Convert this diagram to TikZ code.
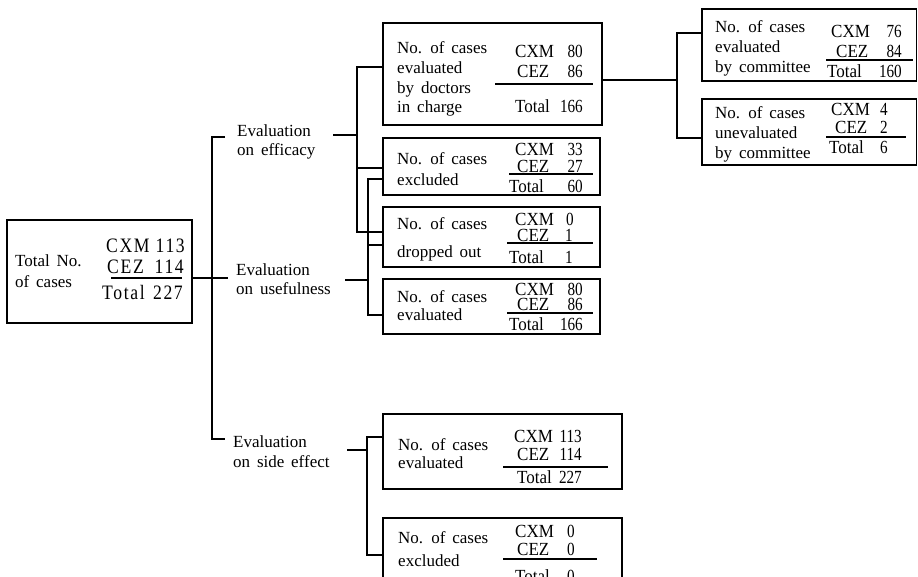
\documentclass[tikz,border=0pt]{standalone}
\usepackage{fontspec}
\setmainfont{Liberation Serif}
\newfontfamily\labfont{Liberation Serif}[WordSpace=1.6]
\newfontfamily\numfont{Liberation Serif}[FakeStretch=0.92]
\newfontfamily\digfont{Liberation Serif}[FakeStretch=0.82]
\newfontfamily\bignumfont{Liberation Serif}[FakeStretch=0.86,LetterSpace=8]
\tikzset{
  box/.style={draw, line width=1.2pt, inner sep=0pt, outer sep=0pt},
  conn/.style={line width=1.2pt},
  lab/.style={inner sep=0pt, anchor=base west, font=\labfont\fontsize{17}{20}\selectfont},
  numl/.style={inner sep=0pt, anchor=base west, font=\numfont\fontsize{18.5}{20}\selectfont},
  numr/.style={inner sep=0pt, anchor=base east, font=\digfont\fontsize{18.5}{20}\selectfont},
  bigl/.style={inner sep=0pt, anchor=base west, font=\bignumfont\fontsize{20.5}{22}\selectfont},
  bigr/.style={bigl, anchor=base east},
  sumrule/.style={line width=1.1pt},
}
\newcommand\boxat[5]{\node[box, minimum width={#4pt-#2pt}, minimum height={#5pt-#3pt}] (#1) at ({(#2+#4)/2},{(#3+#5)/2}) {};}
\newcommand\txl[4]{\node[lab] (#1) at (#2,#3) {#4};}
\newcommand\srow[6]{\node[numl] (#1a) at (#2,#4) {#5}; \node[numr] (#1b) at (#3,#4) {#6};}
\newcommand\brow[6]{\node[bigl] (#1a) at (#2,#4) {#5}; \node[bigr] (#1b) at (#3,#4) {#6};}
\begin{document}
\begin{tikzpicture}[x=1pt,y=-1pt]
\useasboundingbox (0,0) rectangle (918,576);
\clip (0,0) rectangle (918,576);

% ---------- boxes ----------
\boxat{total}{7}{220}{192}{323}
\boxat{doc}{383}{23}{602}{125}
\boxat{excl}{383}{138}{600}{195}
\boxat{drop}{383}{207}{600}{267}
\boxat{evalu}{383}{279}{600}{334}
\boxat{com1}{702}{9}{916.5}{81}
\boxat{com2}{702}{99}{916.5}{165}
\boxat{side}{383}{414}{622}{489}
\boxat{sidex}{383}{518}{622}{600}

% ---------- total box ----------
\txl{tot1}{15}{266}{Total No.}
\txl{tot2}{15}{287}{of cases}
\brow{totA}{106}{185}{252}{CXM}{113}
\brow{totB}{107}{184}{273}{CEZ}{114}
\draw[sumrule] (111,278) -- (182,278);
\brow{totC}{102}{183}{299}{Total}{227}

% ---------- doctors box ----------
\txl{doc1}{397}{53}{No. of cases}
\txl{doc2}{397}{73}{evaluated}
\txl{doc3}{397}{93}{by doctors}
\txl{doc4}{397}{112}{in charge}
\srow{docA}{515}{583}{57}{CXM}{80}
\srow{docB}{517}{583}{77}{CEZ}{86}
\draw[sumrule] (495,84) -- (593,84);
\srow{docC}{515}{583}{112}{Total}{166}

% ---------- excluded box ----------
\txl{exc1}{397}{164}{No. of cases}
\txl{exc2}{397}{185}{excluded}
\srow{excA}{515}{583}{155}{CXM}{33}
\srow{excB}{517}{583}{172}{CEZ}{27}
\draw[sumrule] (509,174) -- (593,174);
\srow{excC}{509}{583}{192}{Total}{60}

% ---------- dropped out box ----------
\txl{drp1}{397}{229}{No. of cases}
\txl{drp2}{397}{257}{dropped out}
\srow{drpA}{515}{574}{225}{CXM}{0}
\srow{drpB}{517}{573}{241}{CEZ}{1}
\draw[sumrule] (507,243) -- (593,243);
\srow{drpC}{509}{573}{263}{Total}{1}

% ---------- evaluated (usefulness) box ----------
\txl{evu1}{397}{302}{No. of cases}
\txl{evu2}{397}{320}{evaluated}
\srow{evuA}{515}{583}{295}{CXM}{80}
\srow{evuB}{517}{583}{310}{CEZ}{86}
\draw[sumrule] (507,313) -- (593,313);
\srow{evuC}{509}{583}{330}{Total}{166}

% ---------- committee boxes ----------
\txl{cm11}{715}{32}{No. of cases}
\txl{cm12}{715}{52}{evaluated}
\txl{cm13}{715}{72}{by committee}
\srow{cm1A}{831}{902}{37}{CXM}{76}
\srow{cm1B}{836}{902}{57}{CEZ}{84}
\draw[sumrule] (826,60) -- (913,60);
\srow{cm1C}{827}{902}{77}{Total}{160}

\txl{cm21}{715}{118}{No. of cases}
\txl{cm22}{715}{138}{unevaluated}
\txl{cm23}{715}{158}{by committee}
\srow{cm2A}{831}{888}{115}{CXM}{4}
\srow{cm2B}{835}{888}{133}{CEZ}{2}
\draw[sumrule] (826,137) -- (906,137);
\srow{cm2C}{829}{888}{153}{Total}{6}

% ---------- side effect boxes ----------
\txl{sd1}{398}{450}{No. of cases}
\txl{sd2}{398}{468}{evaluated}
\srow{sdA}{514}{582}{442}{CXM}{113}
\srow{sdB}{517}{582}{460}{CEZ}{114}
\draw[sumrule] (503,467) -- (608,467);
\srow{sdC}{517}{582}{483}{Total}{227}

\txl{sx1}{398}{543}{No. of cases}
\txl{sx2}{398}{566}{excluded}
\srow{sxA}{515}{575}{537}{CXM}{0}
\srow{sxB}{517}{575}{555}{CEZ}{0}
\draw[sumrule] (503,559) -- (597,559);
\srow{sxC}{515}{575}{582}{Total}{0}

% ---------- evaluation labels ----------
\txl{eff1}{237}{136}{Evaluation}
\txl{eff2}{237}{155}{on efficacy}
\txl{use1}{236}{275}{Evaluation}
\txl{use2}{236}{294}{on usefulness}
\txl{sef1}{233}{447}{Evaluation}
\txl{sef2}{233}{467}{on side effect}

% ---------- connectors ----------
% main spine
\coordinate (sTop) at (212,137);
\coordinate (sBot) at (212,439);
\coordinate (sMid) at (212,278);
\coordinate (sTopEnd) at (225,137);
\coordinate (sBotEnd) at (225,439);
\coordinate (sMidEnd) at (228,278);
\draw[conn] (sTopEnd) -- (sTop) -- (sBot) -- (sBotEnd);
\draw[conn] (total.east |- sMid) -- (sMidEnd);

% efficacy branch
\coordinate (effo) at (333,135);
\coordinate (eJ) at (357,135);
\coordinate (eTop) at (357,67);
\coordinate (eExc) at (357,168);
\coordinate (eBot) at (357,232);
\draw[conn] (effo) -- (eJ);
\draw[conn] (doc.west |- eTop) -- (eTop) -- (eBot) -- (eBot -| drop.west);
\draw[conn] (eExc) -- (eExc -| excl.west);

% usefulness branch
\coordinate (useo) at (345,280);
\coordinate (uJ) at (368,280);
\coordinate (uTop) at (368,179);
\coordinate (uDrp) at (368,245);
\coordinate (uBot) at (368,315);
\draw[conn] (useo) -- (uJ);
\draw[conn] (excl.west |- uTop) -- (uTop) -- (uBot) -- (uBot -| evalu.west);
\draw[conn] (uDrp) -- (uDrp -| drop.west);

% doctors -> committee
\coordinate (cJ) at (677,80);
\coordinate (cTop) at (677,33);
\coordinate (cBot) at (677,138);
\draw[conn] (doc.east |- cJ) -- (cJ);
\draw[conn] (com1.west |- cTop) -- (cTop) -- (cBot) -- (cBot -| com2.west);

% side effect branch
\coordinate (sdo) at (347,450);
\coordinate (sdJ) at (367,450);
\coordinate (sdTop) at (367,437);
\coordinate (sdBot) at (367,555);
\draw[conn] (sdo) -- (sdJ);
\draw[conn] (side.west |- sdTop) -- (sdTop) -- (sdBot) -- (sdBot -| sidex.west);
\end{tikzpicture}
\end{document}
